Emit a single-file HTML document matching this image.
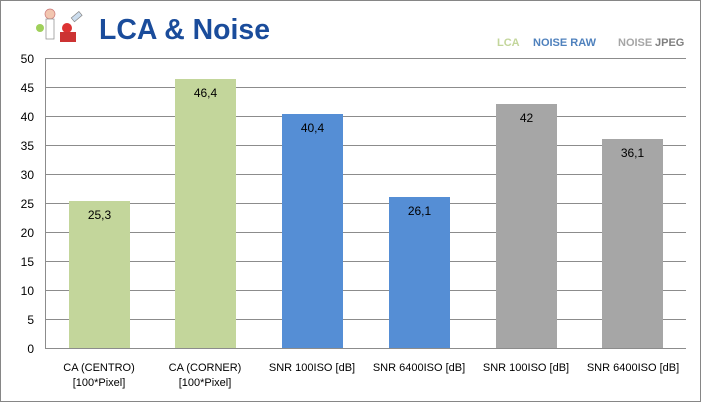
<!DOCTYPE html>
<html><head><meta charset="utf-8"><style>
body{margin:0;background:#fff;}
svg{display:block;font-family:"Liberation Sans",Calibri,sans-serif;}
</style></head><body>
<svg width="702" height="403" viewBox="0 0 702 403" xmlns="http://www.w3.org/2000/svg">
<rect x="0.5" y="0.5" width="700" height="401" fill="#fff" stroke="#868686"/>
<g>
<circle cx="50" cy="14" r="5" fill="#f2c6b0" stroke="#c77" stroke-width="0.7"/>
<rect x="46" y="19" width="8" height="20" fill="#fff" stroke="#888" stroke-width="0.7"/>
<circle cx="40" cy="28" r="4" fill="#9fd05a"/>
<circle cx="67" cy="28" r="5" fill="#d33"/>
<rect x="60" y="32" width="16" height="10" fill="#c33"/>
<rect x="72" y="14" width="10" height="5" fill="#cde" stroke="#888" stroke-width="0.7" transform="rotate(-40 77 17)"/>
</g>
<text x="99" y="39" font-size="29" font-weight="bold" fill="#1a4c9b" textLength="171" lengthAdjust="spacingAndGlyphs">LCA &amp; Noise</text>
<text x="497" y="46" font-size="11" font-weight="bold" fill="#c3d69b">LCA</text>
<text x="533" y="46" font-size="11" font-weight="bold" fill="#4f81bd">NOISE RAW</text>
<text x="618" y="46" font-size="11" font-weight="bold" fill="#a6a6a6">NOISE</text>
<text x="655" y="46" font-size="11" font-weight="bold" fill="#7f7f7f">JPEG</text>
<g stroke="#8c8c8c" stroke-width="1">
<line x1="45" y1="58.5" x2="686" y2="58.5"/>
<line x1="45" y1="87.5" x2="686" y2="87.5"/>
<line x1="45" y1="116.5" x2="686" y2="116.5"/>
<line x1="45" y1="145.5" x2="686" y2="145.5"/>
<line x1="45" y1="174.5" x2="686" y2="174.5"/>
<line x1="45" y1="203.5" x2="686" y2="203.5"/>
<line x1="45" y1="232.5" x2="686" y2="232.5"/>
<line x1="45" y1="261.5" x2="686" y2="261.5"/>
<line x1="45" y1="290.5" x2="686" y2="290.5"/>
<line x1="45" y1="319.5" x2="686" y2="319.5"/>
<line x1="45" y1="348.5" x2="686" y2="348.5"/>
<line x1="45.5" y1="58" x2="45.5" y2="349"/>
</g>
<g font-size="12" fill="#000" text-anchor="end">
<text x="34" y="63">50</text><text x="34" y="92">45</text><text x="34" y="121">40</text>
<text x="34" y="150">35</text><text x="34" y="179">30</text><text x="34" y="208">25</text>
<text x="34" y="237">20</text><text x="34" y="266">15</text><text x="34" y="295">10</text>
<text x="34" y="324">5</text><text x="34" y="353">0</text>
</g>
<rect x="69" y="201" width="61" height="147" fill="#c3d69b"/>
<rect x="175" y="79" width="61" height="269" fill="#c3d69b"/>
<rect x="282" y="114" width="61" height="234" fill="#558ed5"/>
<rect x="389" y="197" width="61" height="151" fill="#558ed5"/>
<rect x="496" y="104" width="61" height="244" fill="#a6a6a6"/>
<rect x="602" y="139" width="61" height="209" fill="#a6a6a6"/>
<g font-size="12" fill="#000" text-anchor="middle">
<text x="99.5" y="219">25,3</text>
<text x="205.5" y="97">46,4</text>
<text x="312.5" y="132">40,4</text>
<text x="419.5" y="215">26,1</text>
<text x="526.5" y="122">42</text>
<text x="632.5" y="157">36,1</text>
</g>
<g font-size="11" fill="#000" text-anchor="middle">
<text x="99" y="371">CA (CENTRO)</text><text x="99" y="386">[100*Pixel]</text>
<text x="205" y="371">CA (CORNER)</text><text x="205" y="386">[100*Pixel]</text>
<text x="312" y="371">SNR 100ISO [dB]</text>
<text x="419" y="371">SNR 6400ISO [dB]</text>
<text x="526" y="371">SNR 100ISO [dB]</text>
<text x="633" y="371">SNR 6400ISO [dB]</text>
</g>
</svg>
</body></html>
